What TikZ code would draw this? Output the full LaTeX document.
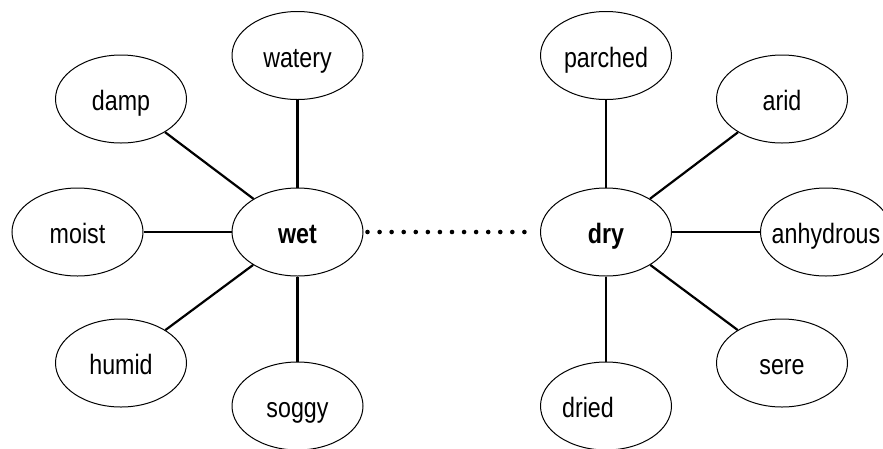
\documentclass[tikz,border=0pt]{standalone}
\usepackage{fontspec}
\setmainfont{Liberation Sans}[FakeStretch=0.83]
\usetikzlibrary{shapes.geometric}
\begin{document}
\begin{tikzpicture}[x=1pt,y=-1pt,
  word/.style={ellipse,draw,line width=1pt,minimum width=131pt,minimum height=88pt,inner sep=0pt,
    font=\fontsize{28pt}{30pt}\selectfont,text height=24pt,text depth=1pt},
  link/.style={line width=2.2pt},
  dotlink/.style={line width=4.6pt,line cap=round,dash pattern=on 0pt off 12.07pt,shorten <=4pt,shorten >=4pt}]
\useasboundingbox (0,0) rectangle (883,448);
\clip (0,0) rectangle (883,448);
\node[word] (wet) at (297.5,232) {\bfseries wet};
\node[word] (dry) at (606,232) {\bfseries dry};
\node[word] (watery) at (297.5,55.5) {watery};
\node[word] (damp) at (121,99) {damp};
\node[word] (moist) at (77.5,232) {moist};
\node[word] (humid) at (121,363) {humid};
\node[word] (soggy) at (297.5,406) {soggy};
\node[word] (parched) at (606,55.5) {parched};
\node[word] (arid) at (782,99) {arid};
\node[word] (anhydrous) at (826,232) {\makebox[0pt]{anhydrous}};
\node[word] (sere) at (782,363) {sere};
\node[word] (dried) at (606,406) {dried\hspace*{36pt}};
\foreach \n in {watery,damp,moist,humid,soggy} \draw[link] (wet) -- (\n);
\foreach \n in {parched,arid,anhydrous,sere,dried} \draw[link] (dry) -- (\n);
\draw[dotlink] (wet) -- (dry);
\end{tikzpicture}
\end{document}
